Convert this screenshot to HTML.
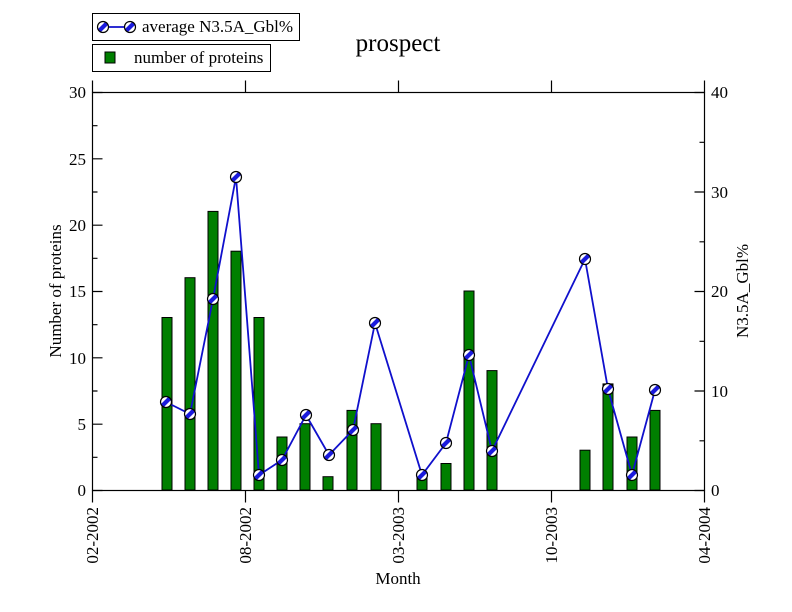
<!DOCTYPE html>
<html><head><meta charset="utf-8"><style>body{margin:0;background:#fff}svg{display:block}text{font-family:"Liberation Serif",serif;fill:#000}</style></head>
<body>
<svg width="792" height="612" viewBox="0 0 792 612" xmlns="http://www.w3.org/2000/svg">
<defs>
<clipPath id="cc"><circle r="5.5"/></clipPath>
<g id="m"><circle r="5.5" fill="#fff"/><line x1="-7" y1="7" x2="7" y2="-7" stroke="#1a1adc" stroke-width="4.2" clip-path="url(#cc)"/><circle r="5.5" fill="none" stroke="#000" stroke-width="1.2"/></g>
</defs>
<rect width="792" height="612" fill="#fff"/>
<g fill="#007f00" stroke="#000" stroke-width="1">
<rect x="162" y="317.5" width="10" height="172.5"/>
<rect x="185" y="277.7" width="10" height="212.3"/>
<rect x="208" y="211.4" width="10" height="278.6"/>
<rect x="231" y="251.2" width="10" height="238.8"/>
<rect x="254" y="317.5" width="10" height="172.5"/>
<rect x="277" y="437" width="10" height="53"/>
<rect x="300" y="423.7" width="10" height="66.3"/>
<rect x="323" y="476.7" width="10" height="13.3"/>
<rect x="347" y="410.4" width="10" height="79.6"/>
<rect x="371" y="423.7" width="10" height="66.3"/>
<rect x="417" y="476.7" width="10" height="13.3"/>
<rect x="441" y="463.5" width="10" height="26.5"/>
<rect x="464" y="291" width="10" height="199"/>
<rect x="487" y="370.6" width="10" height="119.4"/>
<rect x="580" y="450.2" width="10" height="39.8"/>
<rect x="603" y="383.9" width="10" height="106.1"/>
<rect x="627" y="437" width="10" height="53"/>
<rect x="650" y="410.4" width="10" height="79.6"/>
</g>
<polyline fill="none" stroke="#1010cc" stroke-width="1.8" points="166,402 190,414 213,299 236,177 259,475 282,460 306,415 329,455 353,430 375,323 422,475 446,443 469,355 492,451 585,259 608,389 632,475 655,390"/>
<g>
<use href="#m" x="166" y="402"/><use href="#m" x="190" y="414"/><use href="#m" x="213" y="299"/><use href="#m" x="236" y="177"/><use href="#m" x="259" y="475"/><use href="#m" x="282" y="460"/><use href="#m" x="306" y="415"/><use href="#m" x="329" y="455"/><use href="#m" x="353" y="430"/><use href="#m" x="375" y="323"/><use href="#m" x="422" y="475"/><use href="#m" x="446" y="443"/><use href="#m" x="469" y="355"/><use href="#m" x="492" y="451"/><use href="#m" x="585" y="259"/><use href="#m" x="608" y="389"/><use href="#m" x="632" y="475"/><use href="#m" x="655" y="390"/>
</g>
<g stroke="#000" stroke-width="1.2" fill="none">
<rect x="92.5" y="92.5" width="612" height="398"/>
<path d="M92.5 92.5v-12M245.5 92.5v-12M398.5 92.5v-12M551.5 92.5v-12M704.5 92.5v-12"/>
<path d="M92.5 490.5v12M245.5 490.5v12M398.5 490.5v12M551.5 490.5v12M704.5 490.5v12"/>
<path d="M92.5 490.5h10M92.5 424.2h10M92.5 357.8h10M92.5 291.5h10M92.5 225.2h10M92.5 158.8h10M92.5 92.5h10"/>
<path d="M92.5 457.3h5M92.5 391h5M92.5 324.7h5M92.5 258.3h5M92.5 192h5M92.5 125.7h5"/>
<path d="M704.5 490.5h-10M704.5 391h-10M704.5 291.5h-10M704.5 192h-10M704.5 92.5h-10"/>
<path d="M704.5 440.8h-5M704.5 341.3h-5M704.5 241.8h-5M704.5 142.3h-5"/>
</g>
<g font-size="17" text-anchor="end">
<text x="86" y="496">0</text><text x="86" y="430">5</text><text x="86" y="364">10</text><text x="86" y="297">15</text><text x="86" y="231">20</text><text x="86" y="165">25</text><text x="86" y="98">30</text>
</g>
<g font-size="17">
<text x="711" y="496">0</text><text x="711" y="397">10</text><text x="711" y="297">20</text><text x="711" y="198">30</text><text x="711" y="98">40</text>
</g>
<g font-size="17" text-anchor="end">
<text transform="translate(98,507) rotate(-90)">02-2002</text>
<text transform="translate(251,507) rotate(-90)">08-2002</text>
<text transform="translate(404,507) rotate(-90)">03-2003</text>
<text transform="translate(557,507) rotate(-90)">10-2003</text>
<text transform="translate(710,507) rotate(-90)">04-2004</text>
</g>
<text x="398" y="584" font-size="17" text-anchor="middle">Month</text>
<text transform="translate(61,291) rotate(-90)" font-size="17" text-anchor="middle">Number of proteins</text>
<text transform="translate(748,291) rotate(-90)" font-size="17" text-anchor="middle">N3.5A_Gbl%</text>
<text x="398" y="51" font-size="25" text-anchor="middle">prospect</text>
<rect x="92.5" y="13.5" width="207" height="27" fill="#fff" stroke="#000" stroke-width="1"/>
<line x1="103" y1="27" x2="130" y2="27" stroke="#1010cc" stroke-width="1.8"/>
<use href="#m" x="103" y="27"/><use href="#m" x="130" y="27"/>
<text x="142" y="32" font-size="17">average N3.5A_Gbl%</text>
<rect x="92.5" y="44.5" width="178" height="27" fill="#fff" stroke="#000" stroke-width="1"/>
<rect x="105" y="52" width="10" height="11" fill="#007f00" stroke="#000" stroke-width="1"/>
<text x="134" y="63" font-size="17">number of proteins</text>
</svg>
</body></html>
